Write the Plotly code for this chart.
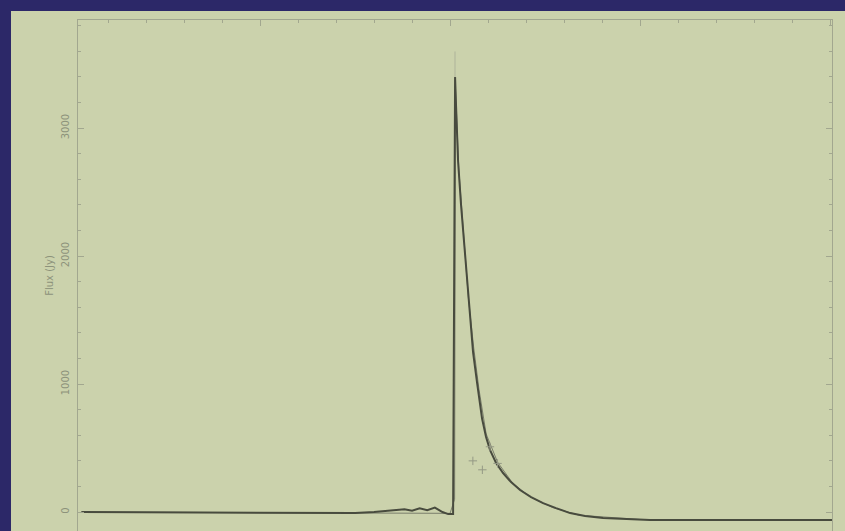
import plotly.graph_objects as go

# Light curve (time in days, flux in Jy)
obs_time = [3, 15, 25, 35, 45, 55, 65, 75, 80, 85, 88, 90, 92, 94, 96, 98, 99.5, 100.8,
            101.1, 101.32, 101.58, 101.84, 102.11, 102.89, 103.68, 104.21, 104.74,
            105.53, 106.05, 107.11, 108.42, 109.47, 110.53, 112.11, 113.95, 116.05,
            118.42, 121.32, 124.47, 127.89, 131.58, 135.53, 140.26, 152.63, 165.79,
            181.58, 200.5]
obs_flux = [0, -2, 2, -5, -4, -8, -6, -8, 0, 12, 22, 10, 30, 15, 35, 0, -16, -16,
            1700, 3398, 3170, 2950, 2740, 2400, 2110, 1900, 1695,
            1420, 1250, 1010, 730, 586, 484, 383, 305, 234,
            172, 117, 70, 31, -8, -31, -47, -63, -63,
            -63, -63]

model_time = [3, 50, 100, 101.2, 101.4, 102.3, 103.5, 104.8, 106.2, 107.6, 109.5,
              112.5, 116.5, 121.0, 127.0, 134.0, 150.0, 175.0, 200.5]
model_flux = [0, -5, -10, 100, 3330, 2680, 2180, 1680, 1290, 960, 610,
              390, 225, 120, 35, -25, -58, -62, -63]

pts_time = [106.0, 110.5, 112.5, 108.5]
pts_flux = [400, 510, 380, 330]

peak_time = [101.3]
peak_flux = [3398]
peak_err = [200]

W, H = 845, 531
ML, MR, MT, MB = 78, 13, 20, 0
pw, ph = W - ML - MR, H - MT - MB

fig = go.Figure()
fig.add_trace(go.Scatter(x=model_time, y=model_flux, mode="lines",
                         line=dict(color="#7a7e6b", width=1), hoverinfo="skip"))
fig.add_trace(go.Scatter(x=obs_time, y=obs_flux, mode="lines",
                         line=dict(color="#484b3e", width=2), hoverinfo="skip"))
fig.add_trace(go.Scatter(x=pts_time, y=pts_flux, mode="markers",
                         marker=dict(symbol="cross-thin", size=6,
                                     line=dict(color="#959985", width=1)),
                         hoverinfo="skip"))
fig.add_trace(go.Scatter(x=peak_time, y=peak_flux, mode="markers",
                         marker=dict(size=1, color="rgba(0,0,0,0)"),
                         error_y=dict(type="data", array=peak_err, arrayminus=[0],
                                      color="#aeb39a", thickness=1, width=0),
                         hoverinfo="skip"))

# pale slide area inside the dark projector border
fig.add_shape(type="rect", xref="paper", yref="paper", layer="below",
              x0=(11 - ML) / pw, x1=(W - ML + 5) / pw,
              y0=-0.05, y1=(H - 11 - MB) / ph,
              fillcolor="#cbd2ac", line=dict(width=0))

axis_col = "#a2a78f"
fig.update_layout(
    width=W, height=H,
    margin=dict(l=ML, r=MR, t=MT, b=MB),
    paper_bgcolor="#2c2868",
    plot_bgcolor="rgba(0,0,0,0)",
    showlegend=False,
    font=dict(family="DejaVu Sans", color="#8d927b", size=10),
    xaxis=dict(range=[2.1, 200.5], side="top", showticklabels=False,
               showgrid=False, zeroline=False, showline=True, linecolor=axis_col,
               linewidth=1, ticks="inside", ticklen=6, tickcolor=axis_col,
               dtick=50, tick0=0,
               minor=dict(dtick=10, ticks="inside", ticklen=3, tickcolor=axis_col)),
    yaxis=dict(range=[-148, 3844], showgrid=False, zeroline=False,
               showline=True, mirror="ticks", linecolor=axis_col, linewidth=1,
               ticks="inside", ticklen=6, tickcolor=axis_col,
               tickvals=[0, 1000, 2000, 3000], ticktext=["0", "1000", "2000", "3000"],
               tickangle=-90, tickfont=dict(size=10, color="#8d927b"),
               ticklabelstandoff=4,
               minor=dict(dtick=200, ticks="inside", ticklen=3, tickcolor=axis_col),
               title=dict(text="Flux (Jy)", font=dict(size=10, color="#8d927b"),
                          standoff=4)),
)

fig.write_html("out.html")
